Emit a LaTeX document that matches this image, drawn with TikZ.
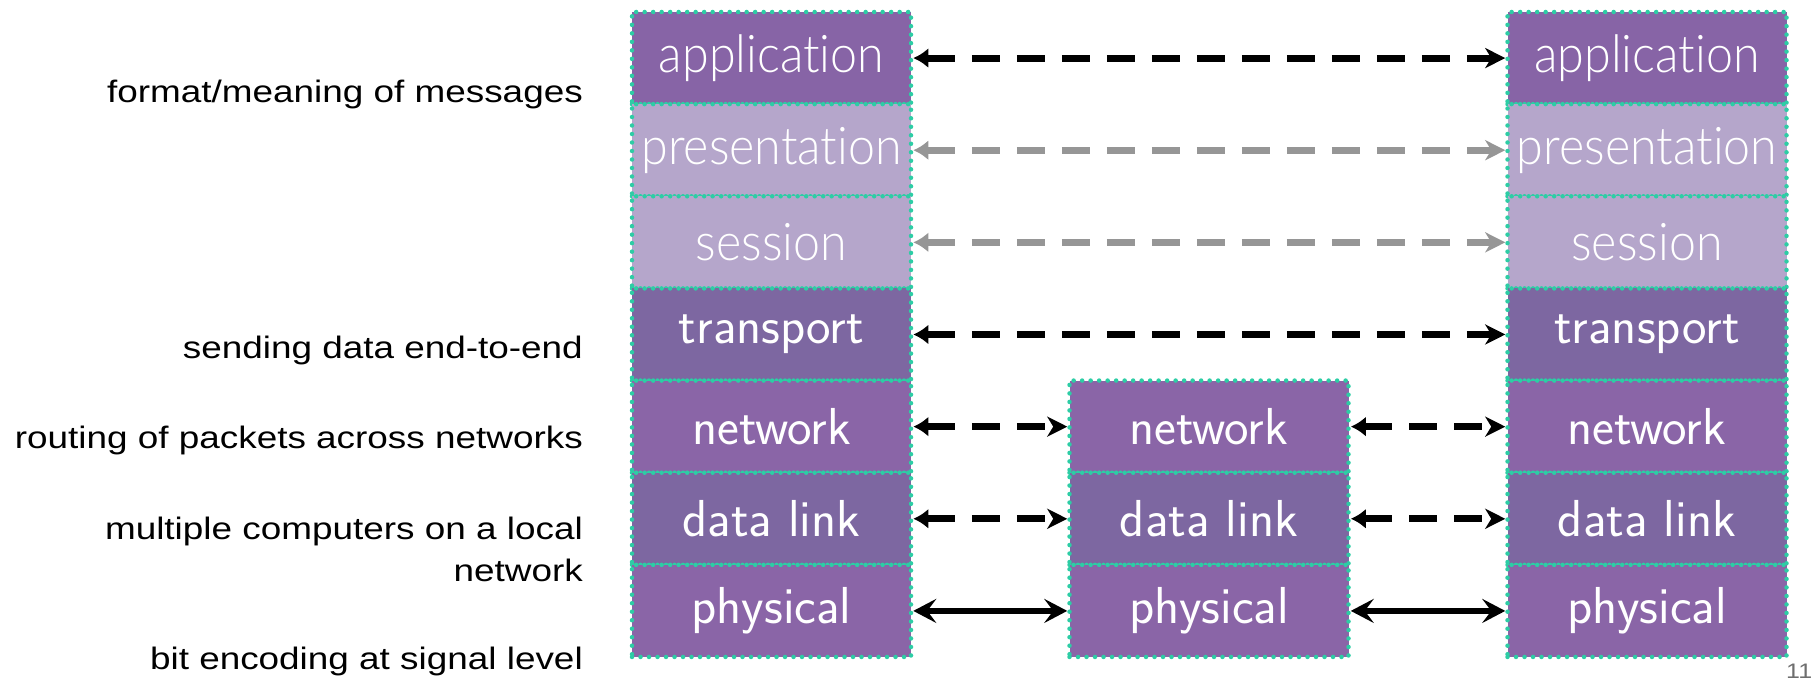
\documentclass[tikz,border=0pt]{standalone}
\usepackage{fontspec}
\usepackage{graphicx}
\usetikzlibrary{arrows.meta}
\newfontfamily\labelfont{Liberation Sans}
\newfontfamily\latofont{Lato Light}[Ligatures={NoCommon,NoContextual}]
\definecolor{appc}{RGB}{135,100,166}
\definecolor{lightc}{RGB}{181,166,203}
\definecolor{darkc}{RGB}{125,103,161}
\definecolor{midc}{RGB}{138,101,167}
\definecolor{dotc}{RGB}{45,205,165}
\definecolor{arrgray}{RGB}{150,150,150}
\definecolor{numgray}{RGB}{110,110,110}
\newcommand\hs[1]{\scalebox{1.19}[1]{#1}}
\newcommand\up[1]{\makebox[0pt]{\scalebox{0.93}[1]{#1}}}
\begin{document}
\begin{tikzpicture}[x=1pt,y=-1pt,
  layer/.style={draw=dotc, line width=4.5pt, line cap=round, dash pattern=on 0pt off 8.5pt,
    minimum width=279pt, minimum height=92.14pt, inner sep=0pt, text=white},
  upper/.style={layer, font=\latofont\fontsize{52}{52}\selectfont},
  lower/.style={layer, font=\sffamily\fontsize{52}{52}\selectfont},
  lbl/.style={font=\labelfont\fontsize{31}{37}\selectfont, inner sep=0pt, anchor=base east},
  darr/.style={line width=7pt, dash pattern=on 28pt off 17pt,
    {Latex[length=15pt,width=20pt]}-{Stealth[length=20pt,width=20pt,inset=6pt]}},
  sarr/.style={line width=6.5pt,
    {Stealth[length=23pt,width=24pt,inset=9pt]}-{Stealth[length=23pt,width=24pt,inset=9pt]}}
]
\useasboundingbox (0,0) rectangle (1818,679);
% left stack
\node[upper, fill=appc]   (Lapp)  at (771.5,58.07)  {\up{application}};
\node[upper, fill=lightc] (Lpre)  at (771.5,150.21) {\up{presentation}};
\node[upper, fill=lightc] (Lses)  at (771.5,242.35) {\up{session}};
\node[lower, fill=darkc]  (Ltra)  at (771.5,334.49) {\makebox[0pt]{transport}};
\node[lower, fill=midc]   (Lnet)  at (771.5,426.63) {\makebox[0pt]{network}};
\node[lower, fill=darkc]  (Ldl)   at (771.5,518.77) {\makebox[0pt]{data link}};
\node[lower, fill=midc]   (Lphy)  at (771.5,610.91) {\makebox[0pt]{physical}};
% middle stack
\node[lower, fill=midc]   (Mnet)  at (1209,426.63) {\makebox[0pt]{network}};
\node[lower, fill=darkc]  (Mdl)   at (1209,518.77) {\makebox[0pt]{data link}};
\node[lower, fill=midc]   (Mphy)  at (1209,610.91) {\makebox[0pt]{physical}};
% right stack
\node[upper, fill=appc]   (Rapp)  at (1647,58.07)  {\up{application}};
\node[upper, fill=lightc] (Rpre)  at (1647,150.21) {\up{presentation}};
\node[upper, fill=lightc] (Rses)  at (1647,242.35) {\up{session}};
\node[lower, fill=darkc]  (Rtra)  at (1647,334.49) {\makebox[0pt]{transport}};
\node[lower, fill=midc]   (Rnet)  at (1647,426.63) {\makebox[0pt]{network}};
\node[lower, fill=darkc]  (Rdl)   at (1647,518.77) {\makebox[0pt]{data link}};
\node[lower, fill=midc]   (Rphy)  at (1647,610.91) {\makebox[0pt]{physical}};
% connectors
\draw[darr] (Lapp.east) -- (Rapp.west);
\draw[darr, arrgray] (Lpre.east) -- (Rpre.west);
\draw[darr, arrgray] (Lses.east) -- (Rses.west);
\draw[darr] (Ltra.east) -- (Rtra.west);
\draw[darr] (Lnet.east) -- (Mnet.west);
\draw[darr] (Mnet.east) -- (Rnet.west);
\draw[darr] (Ldl.east) -- (Mdl.west);
\draw[darr] (Mdl.east) -- (Rdl.west);
\draw[sarr] (Lphy.east) -- (Mphy.west);
\draw[sarr] (Mphy.east) -- (Rphy.west);
% labels
\node[lbl] (t1) at (583,103) {\hs{format/meaning of messages}};
\node[lbl] (t2) at (583,358) {\hs{sending data end-to-end}};
\node[lbl] (t3) at (583,448) {\hs{routing of packets across networks}};
\node[lbl] (t4) at (583,539) {\hs{multiple computers on a local}};
\node[lbl] (t5) at (583,581) {\hs{network}};
\node[lbl] (t6) at (583,669) {\hs{bit encoding at signal level}};
% page number
\node[font=\labelfont\fontsize{21}{21}\selectfont, text=numgray, inner sep=0pt, anchor=base west] (pn) at (1786,678) {\hs{11}};
\end{tikzpicture}
\end{document}
